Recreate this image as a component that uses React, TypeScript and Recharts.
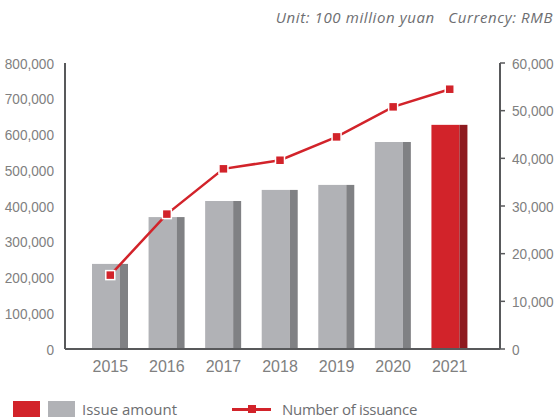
import React from 'react';
import { ComposedChart, Bar, Line, XAxis, YAxis } from 'recharts';

const years = ['2015', '2016', '2017', '2018', '2019', '2020', '2021'];
const issueAmount = [238000, 369000, 414000, 445000, 459000, 579000, 627000];
const issuanceCount = [15500, 28300, 37800, 39600, 44500, 50800, 54500];
const leftTicks = [0, 100000, 200000, 300000, 400000, 500000, 600000, 700000, 800000];
const rightTicks = [0, 10000, 20000, 30000, 40000, 50000, 60000];
const highlightYear = '2021';

const RED = '#d2232a';
const RED_DARK = '#8e1a1f';
const GRAY = '#b1b2b6';
const GRAY_DARK = '#808184';
const AXIS = '#58595b';
const TEXT = '#808080';

const data = years.map((year, i) => ({
  year,
  amount: issueAmount[i],
  count: issuanceCount[i],
}));

const fmt = (v: number) => v.toLocaleString('en-US');

const sans = '"Liberation Sans", Arial, sans-serif';
const labelFont = '"Open Sans", "Noto Sans", sans-serif';

// bar with a darker right face for the pseudo-3D look
const BoxBar = (props: any) => {
  const { x, y, width, height, payload } = props;
  if (!height || height <= 0) return null;
  const hot = payload.year === highlightYear;
  const front = Math.round(width * 0.77);
  return (
    <g>
      <rect x={x} y={y} width={front} height={height} fill={hot ? RED : GRAY} />
      <rect x={x + front} y={y} width={width - front} height={height} fill={hot ? RED_DARK : GRAY_DARK} />
    </g>
  );
};

const SquareDot = (props: any) => {
  const { cx, cy } = props;
  if (cx == null || cy == null) return null;
  return <rect x={cx - 4.5} y={cy - 4.5} width={9} height={9} fill={RED} stroke="#fff" strokeWidth={1.5} />;
};

// narrow-looking tick labels (condensed horizontally)
const NarrowTick = (props: any) => {
  const { x, y, payload, textAnchor } = props;
  return (
    <g transform={`translate(${x},${y})`}>
      <text
        transform="scale(0.88,1)"
        textAnchor={textAnchor}
        dy="0.36em"
        fill={TEXT}
        fontSize={15.5}
        fontFamily={sans}
      >
        {fmt(payload.value)}
      </text>
    </g>
  );
};

export default function App() {
  return (
    <div style={{ position: 'fixed', left: 0, top: 0, width: 556, height: 417, background: '#fff', overflow: 'hidden' }}>
      <div
        style={{
          position: 'absolute',
          right: 3,
          top: 7,
          fontFamily: labelFont,
          fontStyle: 'italic',
          fontSize: 15,
          letterSpacing: 0.6,
          color: '#6d6e71',
          whiteSpace: 'pre',
        }}
      >
        {'Unit: 100 million yuan   Currency: RMB'}
      </div>

      <ComposedChart
        width={556}
        height={385}
        data={data}
        margin={{ top: 63, right: 0, bottom: 6, left: 5 }}
        barCategoryGap={0}
      >
        <XAxis
          dataKey="year"
          axisLine={{ stroke: AXIS, strokeWidth: 2 }}
          tickLine={false}
          padding={{ left: 17, right: 22 }}
          height={30}
          tickMargin={6}
          tick={{ fill: TEXT, fontSize: 16, fontFamily: sans }}
        />
        <YAxis
          yAxisId="left"
          domain={[0, 800000]}
          ticks={leftTicks}
          width={60}
          axisLine={{ stroke: AXIS, strokeWidth: 2 }}
          tickLine={false}
          tickMargin={5}
          tick={<NarrowTick />}
        />
        <YAxis
          yAxisId="right"
          orientation="right"
          domain={[0, 60000]}
          ticks={rightTicks}
          width={56}
          axisLine={{ stroke: AXIS, strokeWidth: 2 }}
          tickLine={{ stroke: AXIS, strokeWidth: 1.5 }}
          tickSize={5}
          tickMargin={7}
          tick={<NarrowTick />}
        />
        <Bar yAxisId="left" dataKey="amount" barSize={36} shape={BoxBar} isAnimationActive={false} />
        <Line
          yAxisId="right"
          dataKey="count"
          stroke={RED}
          strokeWidth={2.5}
          dot={<SquareDot />}
          activeDot={false}
          isAnimationActive={false}
        />
      </ComposedChart>

      <div
        style={{
          position: 'absolute',
          left: 13,
          top: 401,
          display: 'flex',
          alignItems: 'center',
          fontFamily: labelFont,
          fontSize: 15,
          color: '#6d6e71',
        }}
      >
        <span style={{ width: 27, height: 16, background: RED, display: 'inline-block' }} />
        <span style={{ width: 27, height: 16, background: GRAY, display: 'inline-block', marginLeft: 8 }} />
        <span style={{ marginLeft: 7, lineHeight: '15px' }}>Issue amount</span>
        <span style={{ position: 'relative', width: 39, height: 15, marginLeft: 55, display: 'inline-block' }}>
          <span style={{ position: 'absolute', left: 0, top: 6, width: 39, height: 3, background: RED }} />
          <span style={{ position: 'absolute', left: 16, top: 3.5, width: 8, height: 8, background: RED }} />
        </span>
        <span style={{ marginLeft: 11, lineHeight: '15px', letterSpacing: -0.3 }}>Number of issuance</span>
      </div>
    </div>
  );
}
